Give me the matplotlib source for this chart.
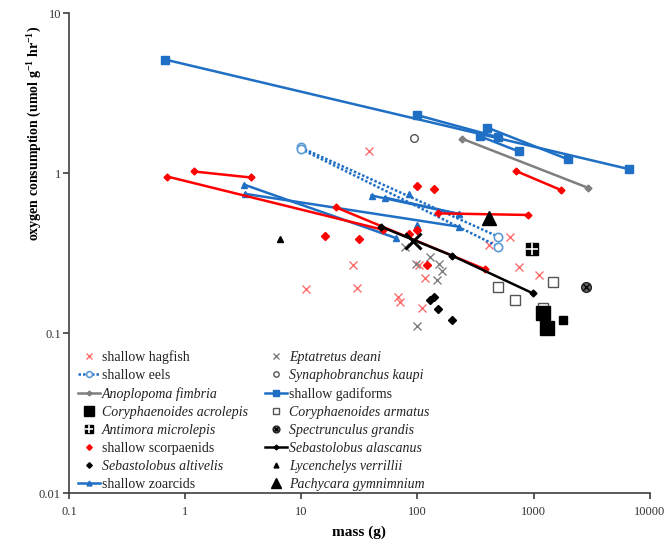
import matplotlib
matplotlib.use("Agg")
import matplotlib.pyplot as plt
from matplotlib.ticker import FixedLocator, FixedFormatter, NullLocator

plt.rcParams['font.family'] = ['Liberation Serif', 'DejaVu Serif']
plt.rcParams['mathtext.fontset'] = 'custom'
plt.rcParams['mathtext.rm'] = 'Liberation Serif'
plt.rcParams['mathtext.bf'] = 'Liberation Serif:bold'

# ---------------- data (mass g, O2 umol g-1 hr-1) ----------------
gad_mass = [[0.667, 6657], [99, 496], [398, 1986], [347, 743]]
gad_o2 = [[5.14, 1.06], [2.31, 1.68], [1.93, 1.22], [1.70, 1.37]]

anop_mass = [244, 2951]
anop_o2 = [1.64, 0.81]

eel_mass = [[9.85, 496], [9.85, 496]]
eel_o2 = [[1.45, 0.401], [1.42, 0.348]]

zoa_mass = [[3.2, 65.2], [3.27, 227], [40.2, 227], [52.4, 227]]
zoa_o2 = [[0.849, 0.393], [0.743, 0.463], [0.725, 0.556], [0.704, 0.556]]
zoa_single_mass = [84.3, 99]
zoa_single_o2 = [0.738, 0.477]

scorp_mass = [[0.698, 50.4], [19.8, 381], [1.186, 3.67], [149, 898], [700, 1709]]
scorp_o2 = [[0.953, 0.443], [0.612, 0.251], [1.025, 0.94], [0.561, 0.548], [1.035, 0.787]]
scorp_single_mass = [15.9, 31.3, 99, 138, 84.3, 99, 122]
scorp_single_o2 = [0.405, 0.385, 0.834, 0.802, 0.414, 0.443, 0.266]

alasc_mass = [48.1, 199, 993]
alasc_o2 = [0.464, 0.305, 0.177]
alasc_mean_mass = [91.8]
alasc_mean_o2 = [0.378]

altiv_mass = [128, 139, 151, 198]
altiv_o2 = [0.162, 0.167, 0.142, 0.121]

dean_mass = [77.9, 128, 96.9, 153, 164, 146, 99]
dean_o2 = [0.344, 0.300, 0.269, 0.272, 0.243, 0.214, 0.110]

hag_mass = [38.1, 629, 412, 751, 1117, 27.8, 10.9, 29.9, 67.4, 70.5, 109, 115, 104]
hag_o2 = [1.38, 0.397, 0.356, 0.260, 0.231, 0.266, 0.188, 0.192, 0.169, 0.157, 0.143, 0.222, 0.266]

kaupi_mass = [93.7]
kaupi_o2 = [1.66]

armatus_mass = [496, 694, 1486, 1196]
armatus_o2 = [0.195, 0.162, 0.208, 0.144]

acrol_mass = [1210, 1302]
acrol_o2 = [0.134, 0.107]
acrol_small_mass = [1778]
acrol_small_o2 = [0.120]

antim_mass = [980]
antim_o2 = [0.336]

spect_mass = [2860]
spect_o2 = [0.195]

lyc_mass = [6.53]
lyc_o2 = [0.388]

pach_mass = [412]
pach_o2 = [0.525]

x_ticks = [0.1, 1, 10, 100, 1000, 10000]
x_ticklabels = ['0.1', '1', '10', '100', '1000', '10000']
y_ticks = [0.01, 0.1, 1, 10]
y_ticklabels = ['0.01', '0.1', '1', '10']

# ---------------- colours ----------------
BLUE = '#1F6FC5'
LBLUE = '#5B9BD5'
RED = '#FF0000'
PINK = '#FF6F6F'
GREY = '#7F7F7F'

fig = plt.figure(figsize=(6.65, 5.45), dpi=100)
ax = fig.add_axes([0.1042, 0.0954, 0.8726, 0.8802])
ax.set_xscale('log')
ax.set_yscale('log')

lw = 1.8

# shallow hagfish
h_hag, = ax.plot(hag_mass, hag_o2, ls='none', marker='x', ms=6, mew=1.0, color=PINK)
# Eptatretus deani
h_dean, = ax.plot(dean_mass, dean_o2, ls='none', marker='x', ms=6, mew=1.0, color=GREY)
# shallow eels
for m, o in zip(eel_mass, eel_o2):
    h_eel, = ax.plot(m, o, ls=(0, (1, 0.8)), lw=1.8, color=BLUE, marker='o', ms=6,
                     mfc='white', mec=LBLUE, mew=1.2)
# Synaphobranchus kaupi
h_kaupi, = ax.plot(kaupi_mass, kaupi_o2, ls='none', marker='o', ms=5.5, mfc='white', mec='#555555', mew=1.0)
# Anoplopoma fimbria
h_anop, = ax.plot(anop_mass, anop_o2, ls='-', lw=lw, color=GREY, marker='D', ms=3.5)
# shallow gadiforms
for m, o in zip(gad_mass, gad_o2):
    h_gad, = ax.plot(m, o, ls='-', lw=lw, color=BLUE, marker='s', ms=5.5)
# shallow zoarcids
for m, o in zip(zoa_mass, zoa_o2):
    h_zoa, = ax.plot(m, o, ls='-', lw=lw, color=BLUE, marker='^', ms=5)
ax.plot(zoa_single_mass, zoa_single_o2, ls='none', color=BLUE, marker='^', ms=5)
# shallow scorpaenids
for m, o in zip(scorp_mass, scorp_o2):
    ax.plot(m, o, ls='-', lw=lw, color=RED, marker='D', ms=3.5)
h_scorp, = ax.plot(scorp_single_mass, scorp_single_o2, ls='none', color=RED, marker='D', ms=4)
# Sebastolobus alascanus
h_alasc, = ax.plot(alasc_mass, alasc_o2, ls='-', lw=lw, color='black', marker='D', ms=3.5)
ax.plot(alasc_mean_mass, alasc_mean_o2, ls='none', marker='x', ms=11, mew=2.2, color='black')
# Sebastolobus altivelis
h_altiv, = ax.plot(altiv_mass, altiv_o2, ls='none', color='black', marker='D', ms=4)
# Coryphaenoides armatus
h_arm, = ax.plot(armatus_mass, armatus_o2, ls='none', marker='s', ms=7, mfc='white', mec='#555555', mew=1.0)
# Coryphaenoides acrolepis
h_acrol, = ax.plot(acrol_mass, acrol_o2, ls='none', marker='s', ms=10, color='black')
ax.plot(acrol_small_mass, acrol_small_o2, ls='none', marker='s', ms=6, color='black')
# Antimora microlepis
h_ant1, = ax.plot(antim_mass, antim_o2, ls='none', marker='s', ms=9, color='black')
h_ant2, = ax.plot(antim_mass, antim_o2, ls='none', marker='+', ms=9, mew=1.2, color='white')
# Spectrunculus grandis
h_sp1, = ax.plot(spect_mass, spect_o2, ls='none', marker='o', ms=7, mfc='#666666', mec='#222222', mew=1.0)
h_sp2, = ax.plot(spect_mass, spect_o2, ls='none', marker='x', ms=4, mew=1.0, color='black')
# Lycenchelys verrillii
h_lyc, = ax.plot(lyc_mass, lyc_o2, ls='none', marker='^', ms=5, color='black')
# Pachycara gymnimnium
h_pach, = ax.plot(pach_mass, pach_o2, ls='none', marker='^', ms=10, color='black')

ax.set_xlim(0.1, 10000)
ax.set_ylim(0.01, 10)
ax.xaxis.set_major_locator(FixedLocator(x_ticks))
ax.xaxis.set_major_formatter(FixedFormatter(x_ticklabels))
ax.yaxis.set_major_locator(FixedLocator(y_ticks))
ax.yaxis.set_major_formatter(FixedFormatter(y_ticklabels))
ax.xaxis.set_minor_locator(NullLocator())
ax.yaxis.set_minor_locator(NullLocator())

for s in ['top', 'right']:
    ax.spines[s].set_visible(False)
for s in ['left', 'bottom']:
    ax.spines[s].set_color('#404040')
    ax.spines[s].set_linewidth(1.2)
ax.tick_params(axis='both', direction='out', length=4, width=1.2, color='#404040',
               labelsize=9, labelcolor='#333333')
ax.tick_params(axis='x', pad=5)
ax.tick_params(axis='y', pad=2)

ax.set_xlabel('mass (g)', fontsize=11, fontweight='bold', labelpad=6)
ax.set_ylabel(r'oxygen consumption (umol g$^{\mathbf{-1}}$ hr$^{\mathbf{-1}}$)',
              fontsize=10, fontweight='bold')
ax.yaxis.set_label_coords(-0.045, 0.75)

left_handles = [h_hag, h_eel, h_anop, h_acrol, (h_ant1, h_ant2), h_scorp, h_altiv, h_zoa]
left_labels = ['shallow hagfish', 'shallow eels', 'Anoplopoma fimbria', 'Coryphaenoides acrolepis',
               'Antimora microlepis', 'shallow scorpaenids', 'Sebastolobus altivelis', 'shallow zoarcids']
right_handles = [h_dean, h_kaupi, h_gad, h_arm, (h_sp1, h_sp2), h_alasc, h_lyc, h_pach]
right_labels = ['Eptatretus deani', 'Synaphobranchus kaupi', 'shallow gadiforms', 'Coryphaenoides armatus',
                'Spectrunculus grandis', 'Sebastolobus alascanus', 'Lycenchelys verrillii', 'Pachycara gymnimnium']
italic = {'Anoplopoma fimbria', 'Coryphaenoides acrolepis', 'Antimora microlepis', 'Sebastolobus altivelis',
          'Eptatretus deani', 'Synaphobranchus kaupi', 'Coryphaenoides armatus', 'Spectrunculus grandis',
          'Sebastolobus alascanus', 'Lycenchelys verrillii', 'Pachycara gymnimnium'}

leg = ax.legend(left_handles + right_handles, left_labels + right_labels, ncol=2,
                loc='lower left', bbox_to_anchor=(-0.002, -0.0154), frameon=False,
                fontsize=10, handlelength=1.6, handletextpad=0.15, columnspacing=1.2,
                labelspacing=0.36, borderpad=0.2, markerscale=0.7)
for t in leg.get_texts():
    if t.get_text() in italic:
        t.set_fontstyle('italic')
    t.set_color('#222222')

fig.savefig('out.png', dpi=100)
